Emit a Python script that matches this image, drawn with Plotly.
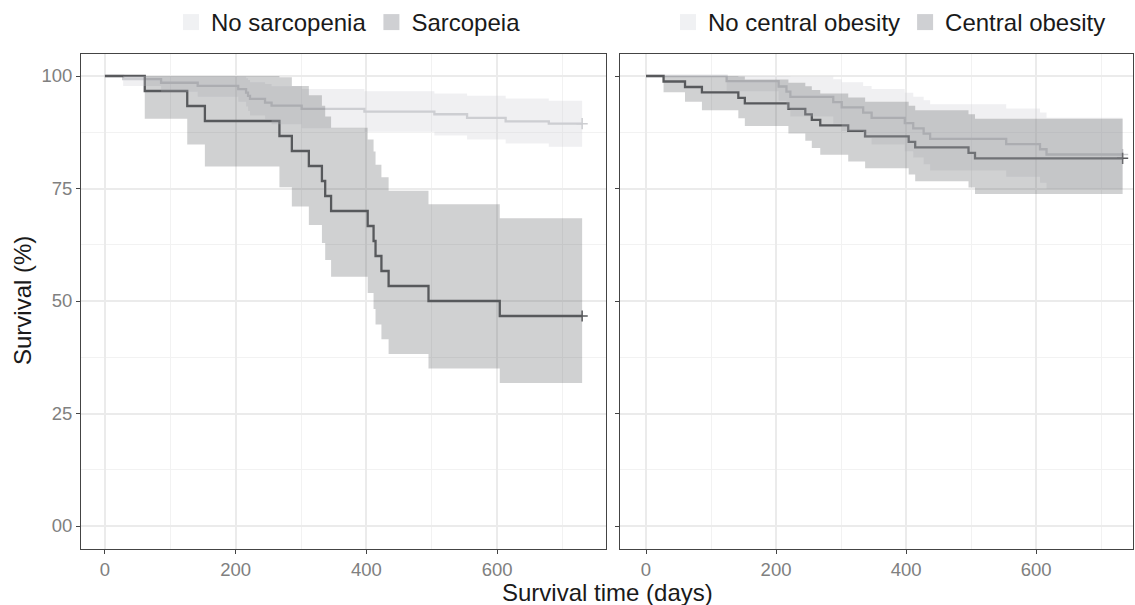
import plotly.graph_objects as go

# ---------------- data ----------------
# Left panel: sarcopenia
nosarc_t = [0, 28, 86, 142, 204, 216, 219, 222, 245, 255, 301, 397, 504, 554, 613, 679, 730]
nosarc_s = [100, 99.3, 98.5, 97.8, 97.1, 96.3, 95.6, 94.9, 94.1, 93.4, 92.7, 92.1, 91.5, 90.7, 89.9, 89.4, 89.4]
nosarc_hi = [100, 100, 100, 100, 99.9, 99.5, 99.1, 98.6, 98.2, 97.7, 97.1, 96.6, 96.1, 95.6, 95.0, 94.5, 94.5]
nosarc_lo = [100, 97.8, 96.5, 95.4, 94.3, 93.2, 92.2, 91.2, 90.2, 89.3, 88.4, 87.6, 86.8, 85.9, 85.0, 84.3, 84.3]

sarc_t = [0, 61, 126, 153, 267, 286, 312, 332, 337, 346, 402, 411, 414, 423, 434, 495, 604, 730]
sarc_s = [100, 96.67, 93.33, 90.0, 86.67, 83.33, 80.0, 76.67, 73.33, 70.0, 66.67, 63.33, 60.0, 56.67, 53.33, 50.0, 46.67, 46.67]
sarc_hi = [100, 100, 100, 100, 99.7, 97.8, 95.7, 93.4, 91.0, 88.5, 85.9, 83.2, 80.3, 77.5, 74.5, 71.5, 68.4, 68.4]
sarc_lo = [100, 90.5, 84.8, 79.9, 75.3, 71.0, 66.9, 62.9, 59.1, 55.4, 51.8, 48.2, 44.8, 41.5, 38.2, 35.0, 31.8, 31.8]

# Right panel: central obesity
ncob_t = [0, 124, 204, 216, 222, 288, 301, 334, 347, 398, 411, 427, 437, 554, 606, 616, 733]
ncob_s = [100, 98.84, 97.67, 96.51, 95.35, 94.19, 93.02, 91.86, 90.70, 89.53, 88.37, 87.21, 86.05, 84.88, 83.72, 82.56, 82.56]
ncob_hi = [100, 100, 100, 100, 99.9, 99.3, 98.6, 97.8, 97.1, 96.3, 95.4, 94.6, 93.7, 92.8, 91.9, 90.7, 90.7]
ncob_lo = [100, 96.6, 94.5, 92.7, 91.0, 89.4, 87.8, 86.3, 84.8, 83.3, 81.9, 80.4, 79.0, 77.6, 76.3, 74.9, 74.9]

cob_t = [0, 27, 60, 86, 142, 152, 219, 245, 255, 268, 311, 337, 404, 414, 496, 506, 733]
cob_s = [100, 98.78, 97.56, 96.34, 95.12, 93.90, 92.68, 91.46, 90.24, 89.02, 87.80, 86.59, 85.37, 84.15, 82.93, 81.71, 81.71]
cob_hi = [100, 100, 100, 100, 99.9, 99.2, 98.5, 97.7, 96.9, 96.1, 95.2, 94.3, 93.4, 92.4, 91.5, 90.5, 90.5]
cob_lo = [100, 96.4, 94.3, 92.4, 90.6, 88.9, 87.2, 85.6, 84.0, 82.5, 81.0, 79.5, 78.1, 76.6, 75.2, 73.8, 73.8]

x_ticks = [0, 200, 400, 600]
y_ticks = [0, 25, 50, 75, 100]
y_ticktext = ["00", "25", "50", "75", "100"]

left_labels = ["No sarcopenia", "Sarcopeia"]
right_labels = ["No central obesity", "Central obesity"]

# ---------------- styling ----------------
W, H = 1135, 605
FONT = "Liberation Sans, Arial, Helvetica, sans-serif"
LIGHT = "rgb(205,206,209)"
DARK = "rgb(88,89,92)"
LIGHT_BAND = "rgba(205,206,212,0.30)"
DARK_BAND = "rgba(86,88,94,0.28)"
LIGHT_KEY = "rgb(240,241,243)"
DARK_KEY = "rgb(207,208,211)"

fig = go.Figure()


def add_group(t, s, line_col, xa, ya):
    # survival step line
    fig.add_trace(go.Scatter(x=t, y=s, mode="lines", line=dict(color=line_col, width=2.3, shape="hv"),
                             xaxis=xa, yaxis=ya, showlegend=False, hoverinfo="skip"))
    # censor mark at the end
    fig.add_trace(go.Scatter(x=[t[-1]], y=[s[-1]], mode="markers",
                             marker=dict(symbol="cross-thin", size=8, line=dict(color=line_col, width=1.5)),
                             xaxis=xa, yaxis=ya, showlegend=False, hoverinfo="skip"))


def add_band(t, lo, hi, band_col, xa, ya):
    fig.add_trace(go.Scatter(x=t, y=lo, mode="lines", line=dict(width=0, shape="hv"),
                             xaxis=xa, yaxis=ya, showlegend=False, hoverinfo="skip"))
    fig.add_trace(go.Scatter(x=t, y=hi, mode="lines", line=dict(width=0, shape="hv"),
                             fill="tonexty", fillcolor=band_col,
                             xaxis=xa, yaxis=ya, showlegend=False, hoverinfo="skip"))


# lines first, bands drawn above (as in the reference)
add_group(nosarc_t, nosarc_s, LIGHT, "x", "y")
add_group(sarc_t, sarc_s, DARK, "x", "y")
add_band(nosarc_t, nosarc_lo, nosarc_hi, LIGHT_BAND, "x", "y")
add_band(sarc_t, sarc_lo, sarc_hi, DARK_BAND, "x", "y")

add_group(ncob_t, ncob_s, LIGHT, "x2", "y2")
add_group(cob_t, cob_s, DARK, "x2", "y2")
add_band(ncob_t, ncob_lo, ncob_hi, LIGHT_BAND, "x2", "y2")
add_band(cob_t, cob_lo, cob_hi, DARK_BAND, "x2", "y2")

# legend entries
for name, col, leg in [(left_labels[0], LIGHT_KEY, "legend"), (left_labels[1], DARK_KEY, "legend"),
                       (right_labels[0], LIGHT_KEY, "legend2"), (right_labels[1], DARK_KEY, "legend2")]:
    fig.add_trace(go.Scatter(x=[None], y=[None], mode="markers", name=name,
                             marker=dict(symbol="square", size=18, color=col),
                             xaxis="x" if leg == "legend" else "x2",
                             yaxis="y" if leg == "legend" else "y2",
                             legend=leg, showlegend=True))

ydom = [1 - 548.5 / H, 1 - 53.5 / H]
axis_common = dict(
    showline=True, linecolor="#444444", linewidth=1, mirror=True,
    ticks="outside", ticklen=4, tickcolor="#444444", tickwidth=1,
    showgrid=True, gridcolor="#EBEBEB", gridwidth=1.5, zeroline=False,
    tickfont=dict(family=FONT, size=18.5, color="#808080"),
)

legend_common = dict(orientation="h", xanchor="left", y=1, yanchor="top",
                     font=dict(family=FONT, size=24, color="#1a1a1a"), bgcolor="rgba(0,0,0,0)",
                     itemsizing="trace", itemwidth=30, traceorder="normal")

fig.update_layout(
    width=W, height=H,
    margin=dict(l=0, r=0, t=0, b=0),
    paper_bgcolor="white", plot_bgcolor="white",
    font=dict(family=FONT, color="#1a1a1a"),
    xaxis=dict(domain=[81 / W, 606 / W], range=[-36.5, 766.5], tickvals=x_ticks, anchor="y",
               minor=dict(dtick=100, tick0=0, showgrid=True, gridcolor="#F2F2F2", gridwidth=0.8),
               **axis_common),
    yaxis=dict(domain=ydom, range=[-5, 105], tickvals=y_ticks, ticktext=y_ticktext, anchor="x",
               minor=dict(dtick=12.5, tick0=0, showgrid=True, gridcolor="#F2F2F2", gridwidth=0.8),
               **axis_common),
    xaxis2=dict(domain=[620 / W, 1133 / W], range=[-40, 749], tickvals=x_ticks, anchor="y2",
                minor=dict(dtick=100, tick0=0, showgrid=True, gridcolor="#F2F2F2", gridwidth=0.8),
                **axis_common),
    yaxis2=dict(domain=ydom, range=[-5, 105], tickvals=y_ticks, ticktext=y_ticktext,
                showticklabels=False, anchor="x2",
                minor=dict(dtick=12.5, tick0=0, showgrid=True, gridcolor="#F2F2F2", gridwidth=0.8),
                **axis_common),
    legend=dict(x=171 / W, **legend_common),
    legend2=dict(x=668 / W, **legend_common),
    annotations=[
        dict(text="Survival (%)", x=22 / W, y=1 - 301 / H, xref="paper", yref="paper",
             textangle=-90, showarrow=False, xanchor="center", yanchor="middle",
             font=dict(family=FONT, size=24, color="#1a1a1a")),
        dict(text="Survival time (days)", x=607 / W, y=1 - 592 / H, xref="paper", yref="paper",
             showarrow=False, xanchor="center", yanchor="middle",
             font=dict(family=FONT, size=24, color="#1a1a1a")),
    ],
)

fig.write_html("out.html")
